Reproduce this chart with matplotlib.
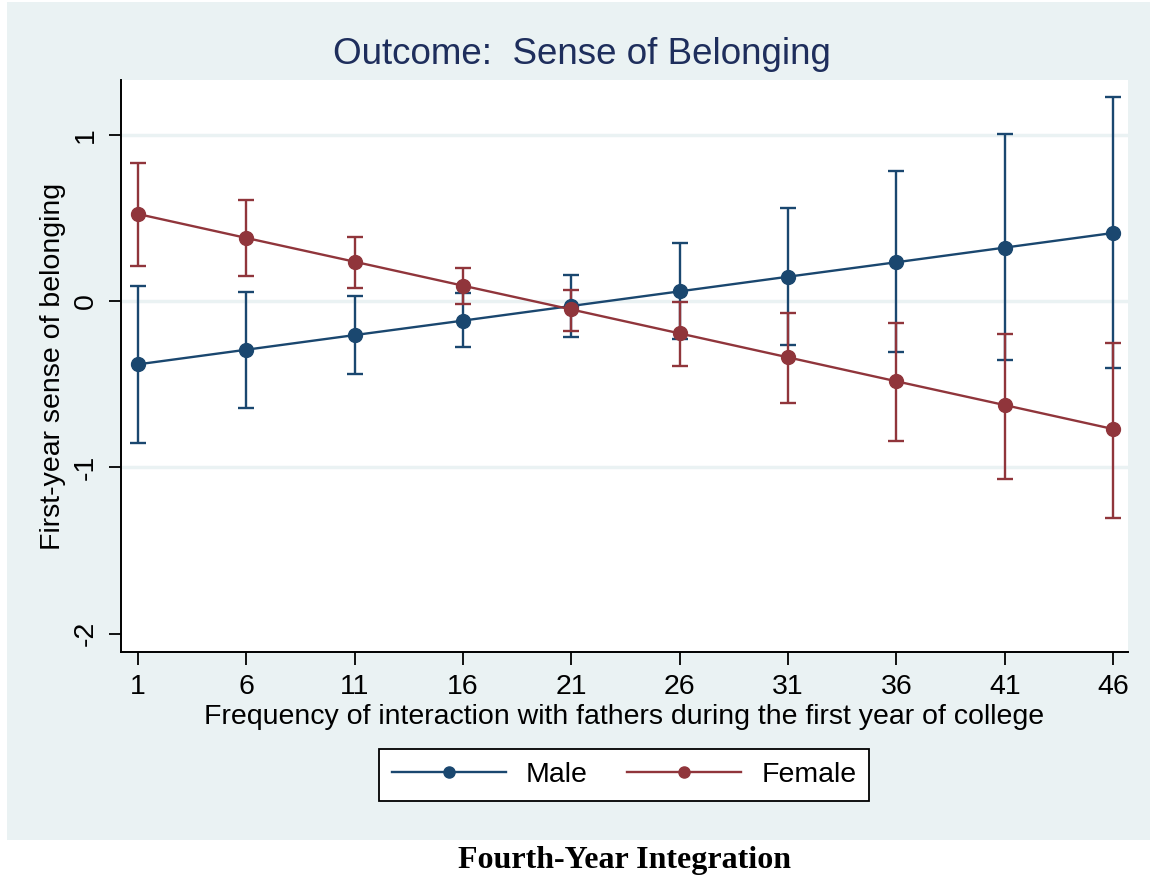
import matplotlib

matplotlib.use("Agg")
import matplotlib.pyplot as plt
import numpy as np
from matplotlib.patches import Rectangle

plt.rcParams["font.family"] = ["Liberation Sans", "DejaVu Sans"]

# predicted margins with 95% CIs, by gender
freq = [1, 6, 11, 16, 21, 26, 31, 36, 41, 46]

male_est = [-0.38, -0.292, -0.204, -0.117, -0.029, 0.059, 0.147, 0.234, 0.322, 0.41]
male_lo = [-0.855, -0.645, -0.44, -0.277, -0.215, -0.23, -0.265, -0.307, -0.355, -0.404]
male_hi = [0.09, 0.054, 0.03, 0.048, 0.158, 0.35, 0.56, 0.783, 1.006, 1.227]

female_est = [0.524, 0.38, 0.237, 0.093, -0.05, -0.194, -0.338, -0.482, -0.625, -0.769]
female_lo = [0.213, 0.149, 0.078, -0.02, -0.18, -0.39, -0.61, -0.839, -1.072, -1.303]
female_hi = [0.831, 0.608, 0.386, 0.2, 0.07, -0.008, -0.074, -0.134, -0.195, -0.249]

y_ticks = [1, 0, -1, -2]
grid_at = [1, 0, -1]

NAVY = "#1a476f"
MAROON = "#90353b"
BG = "#eaf2f3"

fig = plt.figure(figsize=(11.5, 8.8), dpi=100)
fig.patch.set_facecolor("white")
fig.patches.append(Rectangle((7 / 1150, 1 - 840 / 880), 1143 / 1150, 838 / 880,
                             transform=fig.transFigure, facecolor=BG,
                             edgecolor="none", zorder=-5))

ax = fig.add_axes([121 / 1150, 1 - 652 / 880, 1007 / 1150, 572 / 880])
ax.set_zorder(2)
ax.set_facecolor("white")

for y in grid_at:
    ax.axhline(y, color=BG, linewidth=2.5, zorder=1)


def draw_series(est, lo, hi, color, label):
    est = np.asarray(est)
    yerr = [est - np.asarray(lo), np.asarray(hi) - est]
    ax.errorbar(freq, est, yerr=yerr, fmt="none", ecolor=color, elinewidth=1.7,
                capsize=5.5, capthick=1.7, zorder=3)
    ax.plot(freq, est, color=color, linewidth=1.7, marker="o", markersize=10,
            label=label, zorder=4)


draw_series(male_est, male_lo, male_hi, NAVY, "Male")
draw_series(female_est, female_lo, female_hi, MAROON, "Female")

ax.set_xlim(0.215, 46.69)
ax.set_ylim(-2.11, 1.33)
ax.set_xticks(freq)
ax.set_xticklabels([str(f) for f in freq])
ax.set_yticks(y_ticks)
ax.set_yticklabels([str(t) for t in y_ticks], rotation=90, va="center")
ax.tick_params(axis="both", direction="out", length=9, width=1.3, labelsize=20.5,
               pad=7, colors="black")

for side in ("top", "right"):
    ax.spines[side].set_visible(False)
for side in ("left", "bottom"):
    ax.spines[side].set_linewidth(1.4)

ax.set_xlabel("Frequency of interaction with fathers during the first year of college",
              fontsize=20.5, labelpad=3)
ax.set_ylabel("First-year sense of belonging", fontsize=20.5, labelpad=5)
fig.text(582 / 1150, 1 - 54 / 880, "Outcome:  Sense of Belonging", ha="center",
         va="center", fontsize=26.5, color="#1e2e5c")

leg = fig.legend(loc="center", bbox_to_anchor=(624 / 1150, 1 - 775 / 880), ncol=2,
                 fontsize=20.5, frameon=True, fancybox=False, edgecolor="black",
                 facecolor="white", framealpha=1, handlelength=4.0,
                 columnspacing=1.4, handletextpad=0.7, borderpad=0.45,
                 markerscale=0.8)
leg.get_frame().set_linewidth(1.3)
for line in leg.get_lines():
    line.set_linewidth(1.7)

# cropped document text above, and caption below the panel
fig.text(330 / 1150, 1 + 6 / 880, "Family belonging", ha="right", va="baseline",
         fontsize=17, family="Liberation Serif")
fig.text(625 / 1150, 1 - 860 / 880, "Fourth-Year Integration", ha="center",
         va="center", fontsize=23, fontweight="bold", family="Liberation Serif")

fig.savefig("out.png", dpi=100)
